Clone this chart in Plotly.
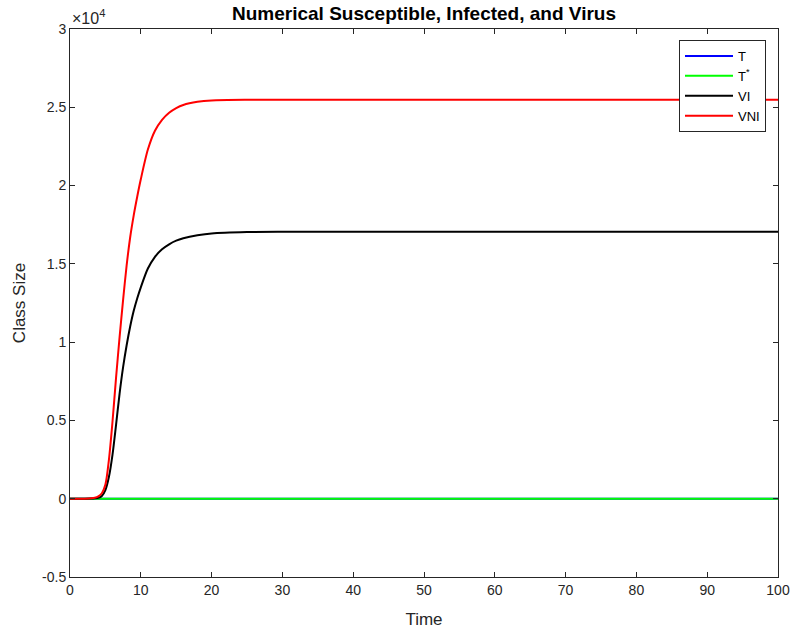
import plotly.graph_objects as go

time = [0, 1, 2, 3, 3.5, 4, 4.5, 5, 5.5, 6, 6.5, 7, 7.5, 8, 8.5, 9, 9.5, 10, 11, 12, 13, 14, 15, 16, 18, 20, 25, 30, 40, 60, 80, 100]
T = [0, 0, 0, 0, 0, 0, 0, 0, 0, 0, 0, 0, 0, 0, 0, 0, 0, 0, 0, 0, 0, 0, 0, 0, 0, 0, 0, 0, 0, 0, 0, 0]
T_star = [0, 0, 0, 0, 0, 0, 0, 0, 0, 0, 0, 0, 0, 0, 0, 0, 0, 0, 0, 0, 0, 0, 0, 0, 0, 0, 0, 0, 0, 0, 0, 0]
VI = [0, 1, 3, 10, 25, 60, 180, 550, 1400, 2800, 4700, 6700, 8400, 9800, 11000, 12000, 12800, 13500, 14700, 15450, 15930, 16250, 16480, 16630, 16820, 16940, 17030, 17050, 17050, 17050, 17050, 17050]
VNI = [0, 1, 5, 25, 60, 150, 350, 900, 2500, 4900, 7700, 10300, 12700, 14900, 16700, 18100, 19300, 20400, 22300, 23500, 24200, 24650, 24950, 25150, 25350, 25440, 25480, 25480, 25480, 25480, 25480, 25480]

series = [("T", T, "#0000ff"), ("T<sup>*</sup>", T_star, "#00ff00"), ("VI", VI, "#000000"), ("VNI", VNI, "#ff0000")]

y_ticks = [-5000, 0, 5000, 10000, 15000, 20000, 25000, 30000]
y_tick_text = ["-0.5", "0", "0.5", "1", "1.5", "2", "2.5", "3"]
x_ticks = [0, 10, 20, 30, 40, 50, 60, 70, 80, 90, 100]

fig = go.Figure()
for name, vals, col in series:
    fig.add_trace(go.Scatter(x=time, y=vals, mode="lines", name=name,
                             line=dict(color=col, width=2, shape="spline", smoothing=0.8)))

axis_common = dict(showgrid=False, zeroline=False, showline=True, linecolor="#262626", linewidth=1,
                   mirror="allticks", ticks="inside", ticklen=5, tickcolor="#262626", automargin=False,
                   tickfont=dict(family="Liberation Sans, Arial, sans-serif", size=14, color="#262626"))

fig.update_layout(
    width=791, height=632,
    margin=dict(l=70, r=13, t=29, b=55, autoexpand=False),
    paper_bgcolor="white", plot_bgcolor="white",
    font=dict(family="Liberation Sans, Arial, sans-serif", color="#262626"),
    title=dict(text="<b>Numerical Susceptible, Infected, and Virus</b>", x=0.5, xref="paper",
               xanchor="center", y=1 - 13 / 632, yanchor="middle",
               font=dict(size=19, color="black")),
    xaxis=dict(range=[0, 100], tickvals=x_ticks, title=dict(text="Time", font=dict(size=17), standoff=16), **axis_common),
    yaxis=dict(range=[-5000, 30000], tickvals=y_ticks, ticktext=y_tick_text,
               title=dict(text="Class Size", font=dict(size=17), standoff=12), **axis_common),
    legend=dict(x=(766 - 70) / 708, y=1 - (40 - 29) / 548, xanchor="right", yanchor="top",
                bgcolor="white", bordercolor="#262626", borderwidth=1,
                font=dict(size=13, color="black"), tracegroupgap=0, itemwidth=48),
    showlegend=True,
)

fig.add_annotation(text="×10<sup>4</sup>", xref="paper", yref="paper", x=0, y=1, xanchor="left", yanchor="bottom",
                   xshift=0, yshift=0, showarrow=False, font=dict(size=16, color="#262626"))

fig.write_html("out.html")
